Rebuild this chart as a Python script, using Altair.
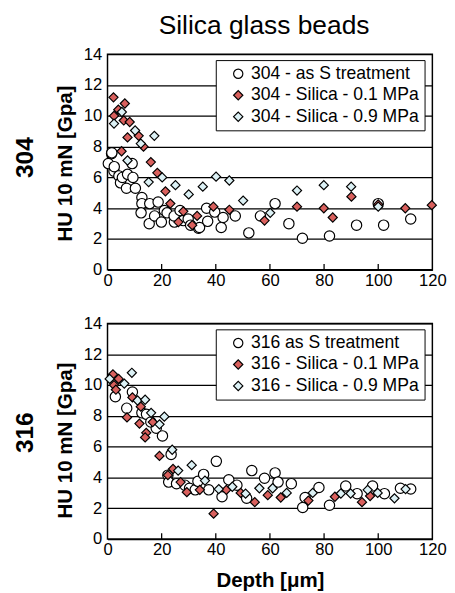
import altair as alt
import pandas as pd

FONT = "Liberation Sans"
TITLE = "Silica glass beads"
X_TITLE = "Depth [μm]"
Y_TITLE = "HU 10 mN [Gpa]"
X_TICKS = [0, 20, 40, 60, 80, 100, 120]
Y_TICKS = [0, 2, 4, 6, 8, 10, 12, 14]
INNER_TICKS = [20, 40, 60, 80, 100]

# ---------------- 304 panel ----------------
TOP_NAME = "304"
TOP_LABELS = ["304 - as S treatment", "304 - Silica - 0.1 MPa", "304 - Silica - 0.9 MPa"]
top_asS_x = [0.3, 1.5, 1.6, 2.4, 2.5, 4.2, 4.8, 5.5, 7.0, 7.4, 9.1, 9.4, 10.3, 12.7, 12.7, 12.4,
             15.4, 15.6, 17.4, 18.7, 19.9, 21.0, 22.0, 24.7, 24.6, 26.8, 28.0, 29.8, 30.7, 33.6,
             34.0, 36.6, 37.0, 39.6, 42.0, 42.7, 47.2, 52.2, 56.5, 61.9, 67.0, 72.0, 82.0, 92.0,
             100.0, 102.0, 112.0]
top_asS_y = [6.9, 7.55, 7.6, 6.4, 6.7, 6.1, 5.65, 6.0, 5.3, 6.2, 6.9, 6.0, 5.3, 4.7, 4.3, 3.7,
             3.0, 4.3, 3.5, 4.4, 3.1, 3.85, 3.7, 3.1, 3.5, 3.85, 3.2, 3.3, 2.9, 2.7,
             2.75, 4.0, 3.15, 3.75, 2.75, 3.4, 3.5, 2.4, 3.5, 4.3, 3.0, 2.05, 2.2, 2.9,
             4.3, 2.9, 3.3]
top_s01_x = [2.2, 6.4, 4.0, 2.4, 6.0, 8.2, 7.4, 11.5, 13.3, 5.2, 16.0, 18.4, 21.4, 23.2, 28.0,
             26.2, 31.3, 33.1, 39.1, 45.0, 58.0, 70.0, 79.9, 83.2, 90.1, 100.0, 110.0, 119.8]
top_s01_y = [11.2, 10.8, 10.4, 10.0, 9.7, 9.6, 8.6, 8.7, 8.0, 7.7, 7.0, 6.3, 5.1, 4.3, 3.8,
             3.1, 2.9, 3.5, 4.1, 3.9, 3.2, 4.1, 4.0, 3.4, 4.75, 4.25, 4.0, 4.2]
top_s09_x = [2.4, 5.3, 10.2, 12.3, 17.3, 7.4, 15.2, 20.2, 25.1, 30.0, 35.2, 40.1, 45.0, 50.1,
             60.1, 70.0, 79.9, 90.0, 100.0]
top_s09_y = [9.5, 10.25, 9.05, 8.2, 8.7, 7.1, 5.7, 6.0, 5.5, 4.9, 5.4, 6.05, 5.8, 4.5,
             3.7, 5.15, 5.5, 5.4, 4.1]

# ---------------- 316 panel ----------------
BOT_NAME = "316"
BOT_LABELS = ["316 as S treatment", "316 - Silica - 0.1 MPa", "316 - Silica - 0.9 MPa"]
bot_asS_x = [2.9, 7.1, 9.2, 12.7, 14.4, 16.0, 18.0, 20.3, 23.5, 22.3, 22.6, 25.5, 28.6, 30.3,
             32.4, 33.4, 35.5, 37.4, 40.2, 42.3, 44.8, 47.8, 51.4, 53.3, 58.0, 61.9, 63.0, 67.9,
             72.1, 73.0, 78.1, 82.0, 88.0, 92.2, 97.9, 102.3, 108.2, 112.0]
bot_asS_y = [9.25, 8.5, 9.55, 8.2, 8.1, 7.6, 7.2, 6.7, 5.5, 4.15, 3.7, 3.6, 3.5, 3.3,
             3.2, 3.75, 4.2, 3.2, 5.05, 2.75, 3.85, 3.5, 2.65, 4.45, 3.95, 4.3, 3.7, 3.6,
             2.05, 2.7, 3.35, 2.2, 3.45, 2.95, 3.45, 2.95, 3.3, 3.25]
bot_s01_x = [2.0, 4.1, 2.4, 3.1, 9.2, 12.3, 7.2, 11.8, 16.7, 14.3, 13.9, 19.2, 22.3, 24.2, 27.0,
             29.3, 34.1, 39.2, 43.9, 49.2, 54.4, 59.2, 64.0, 74.2, 84.0, 94.0, 97.0]
bot_s01_y = [10.7, 10.4, 10.0, 9.7, 9.2, 8.6, 7.9, 7.5, 7.6, 6.9, 6.6, 5.4, 4.15, 4.55, 3.7,
             3.05, 3.2, 1.65, 3.2, 3.0, 2.4, 2.85, 2.7, 2.5, 2.75, 2.4, 2.8]
bot_s09_x = [0.8, 6.2, 9.0, 11.1, 13.9, 16.1, 19.2, 21.0, 23.9, 26.1, 31.1, 36.0, 41.1, 46.1,
             51.0, 56.1, 61.0, 66.2, 75.8, 86.2, 89.8, 96.1, 99.8, 106.0, 110.1]
bot_s09_y = [10.4, 10.1, 10.8, 9.0, 9.05, 8.2, 7.45, 7.95, 5.8, 4.45, 4.8, 3.8, 3.25, 3.4,
             2.95, 3.3, 3.3, 3.0, 3.0, 2.96, 2.96, 3.2, 3.0, 2.65, 3.25]

COLORS = ["#ffffff", "#d9605d", "#dcf1f5"]
SHAPES = ["circle", "diamond", "diamond"]
STROKES = ["black", "black", "black"]
CIRCLE_SIZE = 112
DIAMOND_SIZE = 88

W, H = 333, 221


def panel(name, labels, series, name_y, title_y, show_x_title):
    rows = []
    for lab, (xs, ys) in zip(labels, series):
        for xv, yv in zip(xs, ys):
            rows.append({"depth": xv, "hu": yv, "series": lab})
    df = pd.DataFrame(rows)

    x_axis = alt.Axis(
        values=X_TICKS, grid=False, domain=False, ticks=False, labelFlush=False,
        labelOverlap=False, labelPadding=3, labelFontSize=17, labelFont=FONT,
        labelColor="black",
        title=X_TITLE if show_x_title else None,
        titleFontSize=21, titleFont=FONT, titleFontWeight="bold", titleColor="black",
        titlePadding=13,
    )
    y_axis = alt.Axis(
        values=Y_TICKS, grid=True, gridColor="black", gridWidth=1.3, gridOpacity=1,
        domain=False, ticks=False, labelPadding=6, labelFontSize=17, labelFont=FONT,
        labelColor="black", labelOverlap=False, labelFlush=False,
        title=Y_TITLE, titleFontSize=21, titleFont=FONT, titleFontWeight="bold",
        titleColor="black", titlePadding=8, titleY=title_y,
    )
    legend = alt.Legend(
        orient="none", legendX=111, legendY=6, title=None, fillColor="white",
        strokeColor="black", padding=5, rowPadding=4, symbolOffset=9, labelOffset=4,
        labelFontSize=18, labelFont=FONT, labelColor="black", labelLimit=400,
        symbolStrokeWidth=1.2, symbolSize=90,
    )
    xs = alt.Scale(domain=[0, 120], nice=False, zero=False)
    ys = alt.Scale(domain=[0, 14], nice=False, zero=False)

    enc = dict(
        x=alt.X("depth:Q", scale=xs, axis=x_axis),
        y=alt.Y("hu:Q", scale=ys, axis=y_axis),
        fill=alt.Fill("series:N", scale=alt.Scale(domain=labels, range=COLORS), legend=legend),
        shape=alt.Shape("series:N", scale=alt.Scale(domain=labels, range=SHAPES), legend=legend),
        stroke=alt.Stroke("series:N", scale=alt.Scale(domain=labels, range=STROKES), legend=legend),
    )
    circles = alt.Chart(df[df["series"] == labels[0]]).mark_point(
        filled=True, strokeWidth=1.2, opacity=1, size=CIRCLE_SIZE
    ).encode(**enc)
    diamonds = alt.Chart(df[df["series"] != labels[0]]).mark_point(
        filled=True, strokeWidth=1.2, opacity=1, size=DIAMOND_SIZE
    ).encode(**enc)
    ticks = alt.Chart(pd.DataFrame({"depth": INNER_TICKS})).mark_rule(
        color="black", strokeWidth=1.3
    ).encode(
        x=alt.X("depth:Q", scale=xs),
        y=alt.value(H),
        y2=alt.value(H - 6),
    )
    rowlab = alt.Chart(pd.DataFrame({"label": [name]})).mark_text(
        angle=270, fontSize=25, fontWeight="bold", font=FONT, align="center",
        baseline="middle", color="black"
    ).encode(text="label:N", x=alt.value(-84), y=alt.value(name_y))
    return alt.layer(circles, diamonds, ticks, rowlab).properties(width=W, height=H)


top = panel(TOP_NAME, TOP_LABELS,
            [(top_asS_x, top_asS_y), (top_s01_x, top_s01_y), (top_s09_x, top_s09_y)],
            106, 111.5, False).properties(
    title=alt.TitleParams(TITLE, fontSize=27, font=FONT, fontWeight="normal",
                          anchor="middle", frame="group", dx=-6, offset=6, color="black")
)
bottom = panel(BOT_NAME, BOT_LABELS,
               [(bot_asS_x, bot_asS_y), (bot_s01_x, bot_s01_y), (bot_s09_x, bot_s09_y)],
               112, 119.5, True)

chart = alt.vconcat(top, bottom, spacing=25).resolve_scale(
    fill="independent", shape="independent", stroke="independent"
).resolve_legend(
    fill="independent", shape="independent", stroke="independent"
).properties(
    padding={"left": 5, "top": -4, "right": 0, "bottom": 0}
).configure_view(
    stroke="black", strokeWidth=1.5
)

chart.save("out.html", embed_options={"renderer": "svg", "actions": False})
